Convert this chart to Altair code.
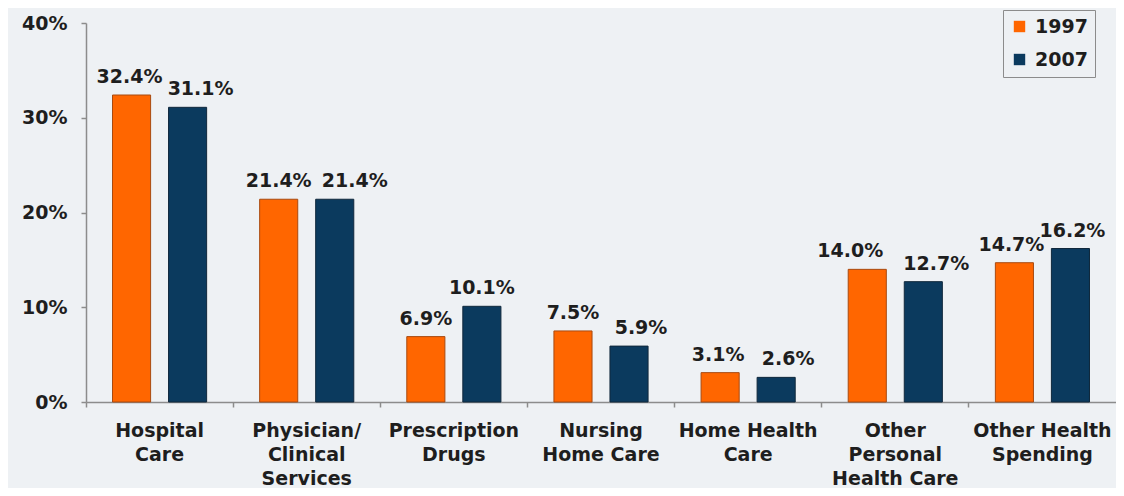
import altair as alt
import pandas as pd

# ---- data ----
categories = [
    "Hospital|Care",
    "Physician/|Clinical|Services",
    "Prescription|Drugs",
    "Nursing|Home Care",
    "Home Health|Care",
    "Other|Personal|Health Care",
    "Other Health|Spending",
]
years = ["1997", "2007"]
share_1997 = [32.4, 21.4, 6.9, 7.5, 3.1, 14.0, 14.7]
share_2007 = [31.1, 21.4, 10.1, 5.9, 2.6, 12.7, 16.2]
y_ticks = [0, 10, 20, 30, 40]
# small horizontal nudges of the value labels (px), as in the original
label_dx_1997 = [-2, 0, 0, 0, -2, -17, -3]
label_dx_2007 = [13, 20, 0, 12, 12, 13, 2]

rows = []
for i, c in enumerate(categories):
    rows.append({"category": c, "year": years[0], "value": share_1997[i], "dx": label_dx_1997[i]})
    rows.append({"category": c, "year": years[1], "value": share_2007[i], "dx": label_dx_2007[i]})
df = pd.DataFrame(rows)

BG = "#eef1f4"
ORANGE = "#ff6600"
NAVY = "#0b3a5e"
AXIS = "#8c8c8c"
TXT = "#1e1e1e"
FONT = "DejaVu Sans"

x_enc = alt.X(
    "category:N",
    sort=categories,
    scale=alt.Scale(paddingInner=0, paddingOuter=0),
    axis=alt.Axis(
        title=None,
        labelExpr="split(datum.label, '|')",
        labelAngle=0,
        labelFont=FONT,
        labelFontSize=19,
        labelFontWeight="bold",
        labelColor=TXT,
        labelLineHeight=24,
        labelPadding=14,
        labelOverlap=False,
        labelLimit=300,
        tickSize=5,
        tickColor=AXIS,
        tickWidth=1.5,
        domainColor=AXIS,
        domainWidth=1.5,
        bandPosition=0,
    ),
)
xo_enc = alt.XOffset(
    "year:N",
    sort=years,
    scale=alt.Scale(paddingInner=0.32, paddingOuter=0.473),
)
y_enc = alt.Y(
    "value:Q",
    scale=alt.Scale(domain=[0, 40], nice=False),
    axis=alt.Axis(
        title=None,
        values=y_ticks,
        labelExpr="datum.value + '%'",
        grid=False,
        labelFont=FONT,
        labelFontSize=19,
        labelFontWeight="bold",
        labelColor=TXT,
        labelPadding=14,
        tickSize=5,
        tickColor=AXIS,
        tickWidth=1.5,
        domainColor=AXIS,
        domainWidth=1.5,
    ),
)

base = alt.Chart(df).transform_calculate(
    label="format(datum.value, '.1f') + '%'"
)

bars = base.mark_bar(strokeWidth=1).encode(
    x=x_enc,
    xOffset=xo_enc,
    y=y_enc,
    color=alt.Color(
        "year:N",
        scale=alt.Scale(domain=years, range=[ORANGE, NAVY]),
        legend=alt.Legend(
            title=None,
            orient="none",
            legendX=917,
            legendY=-13,
            direction="vertical",
            symbolType="square",
            symbolSize=130,
            symbolStrokeWidth=0,
            labelFont=FONT,
            labelFontSize=19,
            labelFontWeight="bold",
            labelColor=TXT,
            labelOffset=6,
            strokeColor=AXIS,
            fillColor=BG,
            padding=7,
            rowPadding=13,
        ),
    ),
    stroke=alt.Stroke(
        "year:N",
        scale=alt.Scale(domain=years, range=["#a84a10", "#10283c"]),
        legend=None,
    ),
)

layers = [bars]
for v in sorted(set(label_dx_1997 + label_dx_2007)):
    layers.append(
        base.mark_text(
            font=FONT,
            fontSize=19,
            fontWeight="bold",
            color=TXT,
            baseline="alphabetic",
            align="center",
            dy=-12,
            dx=v,
        )
        .encode(x=x_enc, xOffset=xo_enc, y=y_enc, text="label:N")
        .transform_filter(alt.datum.dx == v)
    )

chart = (
    alt.layer(*layers)
    .properties(
        width=1030,
        height=379,
        autosize=alt.AutoSizeParams(type="none"),
        padding={"left": 78, "top": 15, "right": 0, "bottom": 86},
        background=BG,
    )
    .configure_view(stroke=None)
)

chart.save("out.html", embed_options={"renderer": "svg", "actions": False})
